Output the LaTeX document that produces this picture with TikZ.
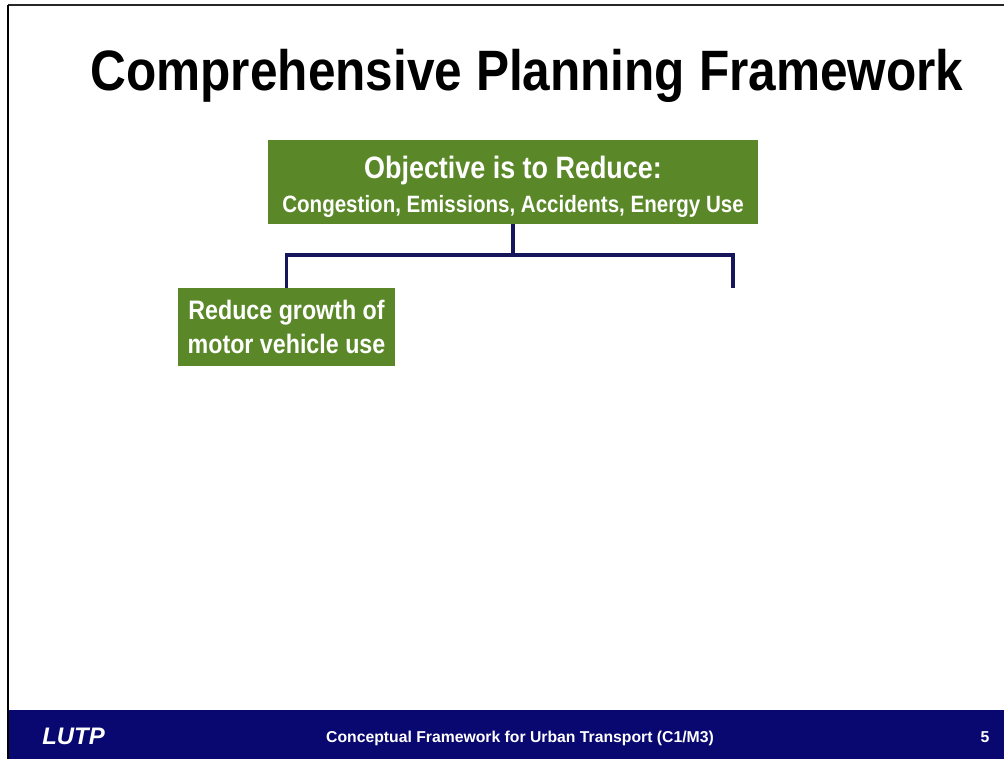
\documentclass[tikz,border=0pt]{standalone}
\usepackage{fontspec}
\setmainfont{Liberation Sans}
\newfontfamily\slidefont[FakeStretch=0.87]{Liberation Sans}
\usetikzlibrary{positioning}
\definecolor{boxgreen}{RGB}{90,136,40}
\definecolor{barnavy}{RGB}{8,8,112}
\definecolor{linknavy}{RGB}{22,22,92}
\tikzset{
  greenbox/.style={fill=boxgreen,text=white,inner sep=0pt,align=center,font=\slidefont\bfseries},
  link/.style={draw=linknavy,line width=2.3pt},
  bartext/.style={text=white,inner sep=0pt,anchor=base,font=\bfseries}
}

\begin{document}
\begin{tikzpicture}[x=0.025cm,y=-0.025cm]
\useasboundingbox (0,0) rectangle (1004,759);
% slide frame and footer bar
\fill[barnavy] (9,710) rectangle (1004,759);
\draw[line width=1pt,black!85] (8,5) -- (1004,5);
\draw[line width=1.4pt] (8,4.5) -- (8,759);
\node[anchor=base,inner sep=0pt,font=\slidefont\bfseries\fontsize{40.5}{44}\selectfont] (title) at (527,90) {Comprehensive Planning Framework};
\node[greenbox,minimum width=12.25cm,minimum height=2.1cm] (objective) at (513,182)
  {{\fontsize{22}{26}\selectfont\rule{0pt}{22.5pt}Objective is to Reduce:}\\[6pt]
   {\fontsize{16.8}{20}\selectfont Congestion, Emissions, Accidents, Energy Use}};
\node[greenbox,minimum width=5.425cm,minimum height=1.95cm,font=\slidefont\bfseries\fontsize{19}{24}\selectfont] (growth) at (286.5,327)
  {Reduce growth of\\motor vehicle use};
\coordinate (split) at (513,255);
\coordinate (rightend) at (733,288);
\draw[link] (objective.south) -- (split);
\draw[link] (split) -| (growth.north);
\draw[link] (split) -| (rightend);
% footer texts
\node[bartext,font=\bfseries\itshape\fontsize{17}{20}\selectfont] (lutp) at (73.5,744) {LUTP};
\node[bartext,font=\bfseries\fontsize{11.2}{13}\selectfont] (course) at (520,742) {Conceptual Framework for Urban Transport (C1/M3)};
\node[bartext,font=\bfseries\fontsize{11.2}{13}\selectfont] (page) at (985,742) {5};
\end{tikzpicture}
\end{document}
